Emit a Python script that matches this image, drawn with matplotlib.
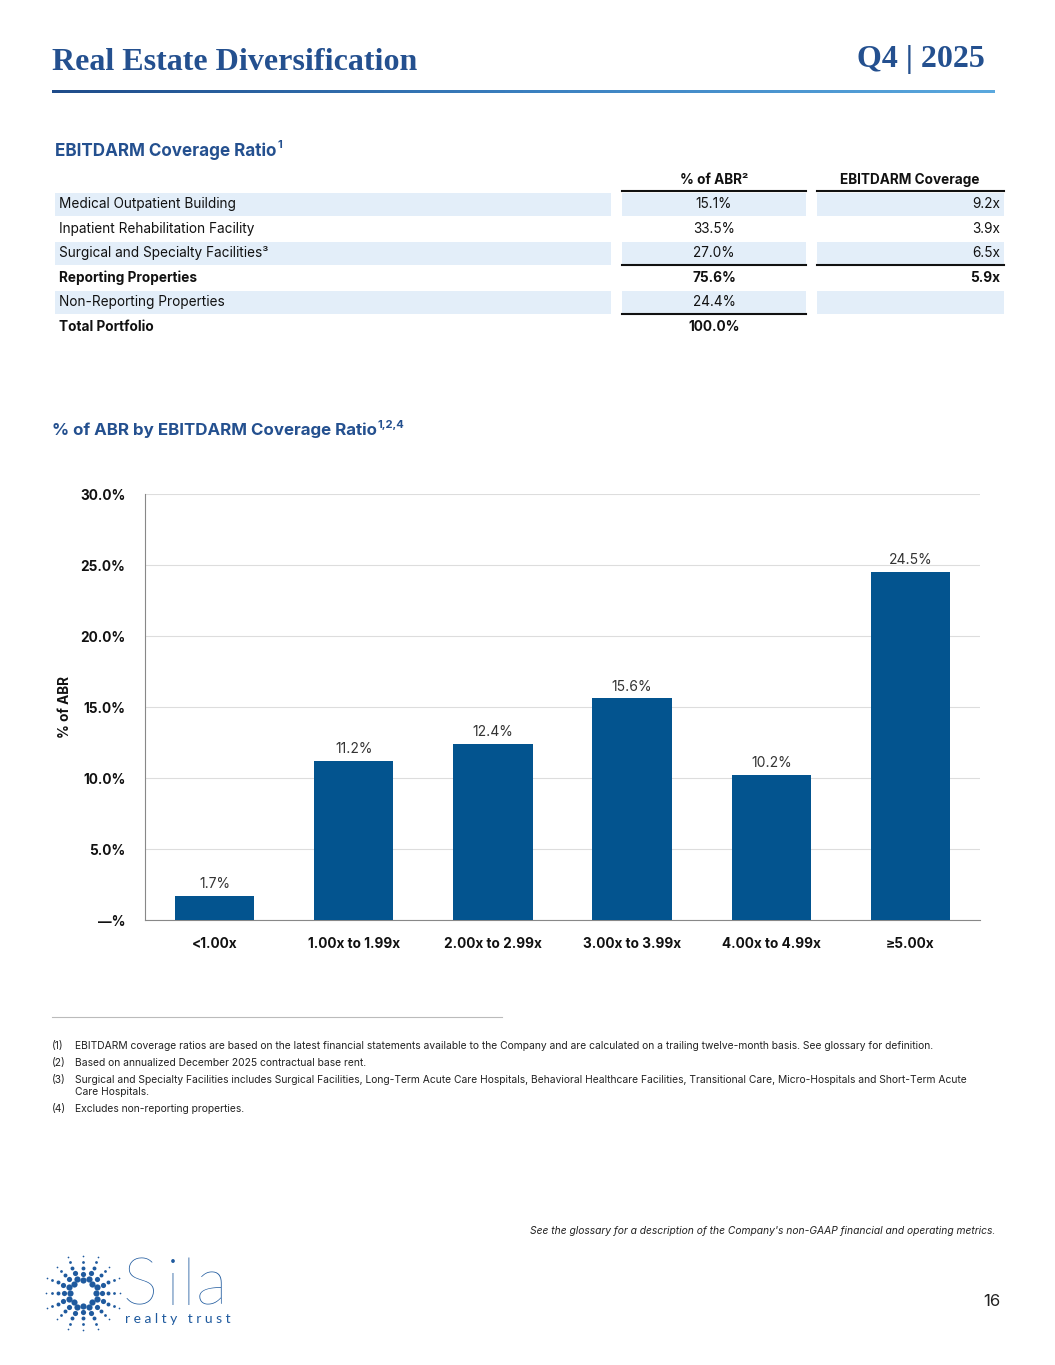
import numpy as np
import matplotlib.pyplot as plt
from matplotlib.patches import Rectangle
from matplotlib.lines import Line2D
from matplotlib.colors import LinearSegmentedColormap

# ---- data ----
row_labels = ["Medical Outpatient Building", "Inpatient Rehabilitation Facility",
              "Surgical and Specialty Facilities\u00b3", "Reporting Properties",
              "Non-Reporting Properties", "Total Portfolio"]
abr_pct = ["15.1%", "33.5%", "27.0%", "75.6%", "24.4%", "100.0%"]
coverage = ["9.2x", "3.9x", "6.5x", "5.9x", "", ""]
bold_rows = [3, 5]
shaded_rows = [0, 2, 4]

bins = ["<1.00x", "1.00x to 1.99x", "2.00x to 2.99x", "3.00x to 3.99x", "4.00x to 4.99x", "\u22655.00x"]
share = [1.7, 11.2, 12.4, 15.6, 10.2, 24.5]
yticks = [0, 5, 10, 15, 20, 25, 30]
ytick_labels = ["\u2014%", "5.0%", "10.0%", "15.0%", "20.0%", "25.0%", "30.0%"]

notes = [
    ("(1)", ["EBITDARM coverage ratios are based on the latest financial statements available to the Company and are calculated on a trailing twelve-month basis. See glossary for definition."]),
    ("(2)", ["Based on annualized December 2025 contractual base rent."]),
    ("(3)", ["Surgical and Specialty Facilities includes Surgical Facilities, Long-Term Acute Care Hospitals, Behavioral Healthcare Facilities, Transitional Care, Micro-Hospitals and Short-Term Acute",
             "Care Hospitals."]),
    ("(4)", ["Excludes non-reporting properties."]),
]

W, H = 1055, 1365
BLUE = "#24508f"
BAR = "#03548f"
SHADE = "#e3eef9"
LOGO = "#1f5a9e"
FONT = ["Inter", "DejaVu Sans"]
plt.rcParams['font.family'] = FONT

fig = plt.figure(figsize=(W / 100, H / 100), dpi=100)
renderer = fig.canvas.get_renderer()


def fx(x):
    return x / W


def fy(y):
    return 1 - y / H


def txt(x, y, s, **kw):
    kw.setdefault("va", "center")
    return fig.text(fx(x), fy(y), s, **kw)


def sup_after(t, s, dy=2, **kw):
    # small superscript right after text t
    bb = t.get_window_extent(renderer)
    fig.text((bb.x1 + 1) / W, (bb.y1 + dy) / H, s, va="top", **kw)


# header
txt(52, 62, "Real Estate Diversification", family=["Liberation Serif", "DejaVu Serif"],
    fontsize=23, fontweight="bold", color=BLUE)
txt(985, 60, "Q4 | 2025", family=["Liberation Serif", "DejaVu Serif"],
    fontsize=23, fontweight="bold", color=BLUE, ha="right")
gax = fig.add_axes([fx(52), fy(93), fx(995) - fx(52), 3.5 / H])
grad = np.linspace(0, 1, 256).reshape(1, -1)
cm = LinearSegmentedColormap.from_list("g", ["#1f4c8a", "#3a7fbf", "#5aa8de"])
gax.imshow(grad, aspect="auto", cmap=cm)
gax.axis("off")

# table
t = txt(55, 151, "EBITDARM Coverage Ratio", fontsize=12.3, fontweight="bold", color=BLUE)
sup_after(t, "1", fontsize=8, fontweight="bold", color=BLUE)
txt(714, 180, "% of ABR\u00b2", fontsize=9.8, fontweight="bold", ha="center", color="#111111")
txt(910, 180, "EBITDARM Coverage", fontsize=9.8, fontweight="bold", ha="center", color="#111111")

row_y0 = 192
row_h = 24.5
cols = [(55, 611), (622, 806), (817, 1004)]
for i, lab in enumerate(row_labels):
    top = row_y0 + i * row_h
    mid = top + row_h / 2
    if i in shaded_rows:
        for a, b in cols:
            fig.patches.append(Rectangle((fx(a), fy(top + row_h - 1)), fx(b) - fx(a), (row_h - 2) / H,
                                         transform=fig.transFigure, color=SHADE, lw=0))
    w = "bold" if i in bold_rows else "normal"
    txt(59, mid, lab, fontsize=9.8, fontweight=w, color="#111111")
    txt(714, mid, abr_pct[i], fontsize=9.8, fontweight=w, color="#111111", ha="center")
    if coverage[i]:
        txt(1000, mid, coverage[i], fontsize=9.8, fontweight=w, color="#111111", ha="right")


def hline(y, a, b, lw=1.5, color="#111111"):
    fig.lines.append(Line2D([fx(a), fx(b)], [fy(y), fy(y)], transform=fig.transFigure, lw=lw, color=color))


hline(191, 622, 806)
hline(191, 817, 1004)
hline(265, 622, 806)
hline(265, 817, 1004)
hline(314, 622, 806)

# bar chart
t = txt(52, 430, "% of ABR by EBITDARM Coverage Ratio", fontsize=12.2, fontweight="bold", color=BLUE)
sup_after(t, "1,2,4", fontsize=8, fontweight="bold", color=BLUE)

ax = fig.add_axes([fx(145), fy(920), fx(980) - fx(145), (920 - 494) / H])
x = np.arange(len(bins))
ax.bar(x, share, width=0.57, color=BAR, zorder=3)
for xi, v in zip(x, share):
    ax.text(xi, v + 0.35, f"{v:.1f}%", ha="center", va="bottom", fontsize=10, color="#333333")
ax.set_xlim(-0.5, len(bins) - 0.5)
ax.set_ylim(0, 30)
ax.set_yticks(yticks)
ax.set_yticklabels(ytick_labels, fontsize=9.8, fontweight="bold", color="#111111")
ax.set_xticks(x)
ax.set_xticklabels(bins, fontsize=9.8, fontweight="bold", color="#111111")
ax.tick_params(length=0, pad=12)
ax.tick_params(axis="y", pad=14)
ax.grid(axis="y", color="#dddddd", lw=0.8, zorder=0)
for s in ["top", "right"]:
    ax.spines[s].set_visible(False)
ax.spines["left"].set_color("#888888")
ax.spines["bottom"].set_color("#888888")
ax.set_ylabel("% of ABR", fontsize=9.8, fontweight="bold", color="#111111")
ax.yaxis.set_label_coords(-0.088, 0.5)

# footnotes
hline(1017, 52, 502, lw=0.8, color="#bbbbbb")
note_y = [1046, 1063, 1080, 1109]
for (num, lines), y in zip(notes, note_y):
    txt(52, y, num, fontsize=7.4, color="#222222")
    for k, s in enumerate(lines):
        txt(75, y + 12 * k, s, fontsize=7.4, color="#222222")

txt(995, 1231, "See the glossary for a description of the Company's non-GAAP financial and operating metrics.",
    fontsize=7.4, style="italic", color="#222222", ha="right")
txt(1000, 1301, "16", fontsize=12, color="#222222", ha="right")

# logo
lax = fig.add_axes([fx(43), fy(1333), 80 / W, 80 / H])
lax.set_xlim(-1, 1)
lax.set_ylim(-1, 1)
lax.axis("off")
for k in range(16):
    ang = 2 * np.pi * k / 16
    off = 0.06 if k % 2 else 0.0
    for r, s in [(0.32, 20), (0.48, 14), (0.63, 8), (0.78, 4), (0.92, 1.5)]:
        lax.scatter((r + off) * np.cos(ang), (r + off) * np.sin(ang), s=s, color=LOGO, lw=0)
logo_font = ["Lato", "DejaVu Sans"]
for ch, xp in zip("Sila", [122, 166, 182, 196]):
    txt(xp, 1287, ch, fontsize=48, fontweight="light", color=LOGO, family=logo_font)
txt(125, 1319, "r e a l t y   t r u s t", fontsize=10, color=LOGO, family=logo_font)

fig.savefig("out.png", dpi=100)
